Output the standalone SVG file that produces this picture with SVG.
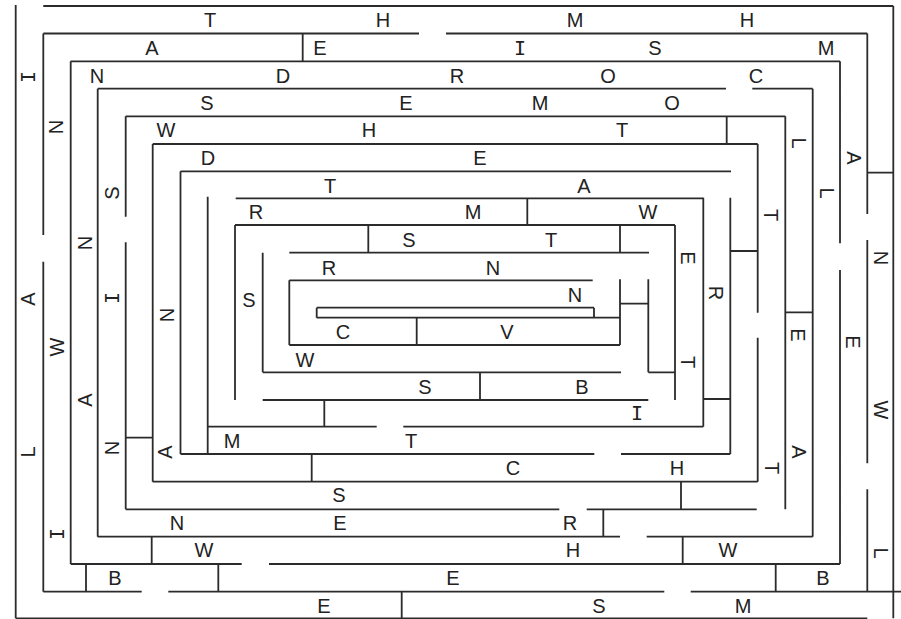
<svg xmlns="http://www.w3.org/2000/svg" width="901" height="619" viewBox="0 0 901 619">
<style>
.w{fill:none;stroke:#2b2b2b;stroke-width:1.8}
.t{font-family:"Liberation Sans",Arial,sans-serif;font-size:20px;fill:#222;text-anchor:middle}
.i{font-family:"DejaVu Sans Mono",monospace;font-size:20px;fill:#222;text-anchor:middle}
</style>
<rect width="901" height="619" fill="#fff"/>
<g id="walls" class="w">
<path d="M43.3 6H893.3M43.3 33.5H419M446 33.5H867.3M70.7 61.3H840M97.7 88.7H726M752.3 88.7H812.7M125.7 116.3H785.3M152.7 144H757.7M180.5 171.3H731M235.7 198.3H703.3M235 225H675M289.3 252.7H649M289.3 280.3H592.7M316.7 307.7H594M316.7 317.7H620M289.3 345H620M262.7 372.3H621M648.3 372.3H675M262.7 400H648.3M207.7 426.7H376.7M403.3 426.7H703.3M180.5 454H594.3M621 454H730.3M152.7 481.7H757.7M125.7 509.3H559.3M586.7 509.3H756.7M97.7 536.7H620M646.7 536.7H812.7M70.7 564H241.7M269 564H840M43.3 591.7H141.7M168.3 591.7H664.3M690.7 591.7H901M15.7 618.3H867.3"/>
<path d="M15.7 5V618.3M43.3 33.5V235M43.3 261.7V591.7M70.7 61.3V564M97.7 88.7V536.7M125.7 116.3V216.7M125.7 242.3V509.3M152.7 144V481.7M180.5 171.3V454M207.7 196.7V454M235 225V400M262.7 252.7V372.3M289.3 280.3V345M316.7 307.7V317.7M594 307.7V317.7M620 225V252.7M620 279.3V345M648.3 279.3V372.3M675 225V400M703.3 197.7V426.7M730.3 197.7V454M757.7 144V312.7M757.7 337.7V481.7M785.3 116.3V509.3M812.7 88.7V536.7M840 61.3V243.3M840 270V564M867.3 33.5V214M867.3 240V463.3M867.3 489.3V591.7M893.3 6V618.3"/>
<path d="M302.7 33.5V61.3M726.7 116.3V144M527.3 198.3V225M368.3 225V252.7M416.7 317.7V345M480 372.3V400M324.3 400V426.7M311.7 454V481.7M681 481.7V509.3M603.3 509.3V536.7M151.7 536.7V564M682.7 536.7V564M86 564V591.7M218.3 564V591.7M775.7 564V591.7M401.7 591.7V618.3M125.7 437.7H152.7M867.3 172.7H893.3M730.3 251H757.7M785.3 312.3H812.7M703.3 399H730.3M620 303.7H648.3"/>
</g>
<g id="labels">
<g class="t">
<text x="210" y="27">T</text><text x="383" y="27">H</text><text x="575" y="27">M</text><text x="747" y="27">H</text>
<text x="152" y="55">A</text><text x="320" y="55">E</text><text x="655" y="55">S</text><text x="826" y="55">M</text>
<text x="97" y="83">N</text><text x="283" y="83">D</text><text x="457" y="83">R</text><text x="608" y="83">O</text><text x="756" y="83">C</text>
<text x="207" y="110">S</text><text x="406" y="110">E</text><text x="540" y="110">M</text><text x="672" y="110">O</text>
<text x="166" y="137">W</text><text x="369" y="137">H</text><text x="622" y="137">T</text>
<text x="208" y="165">D</text><text x="480" y="165">E</text>
<text x="330" y="193">T</text><text x="584" y="193">A</text>
<text x="256" y="219">R</text><text x="473" y="219">M</text><text x="648" y="219">W</text>
<text x="409" y="247">S</text><text x="551" y="247">T</text>
<text x="329" y="275">R</text><text x="493" y="275">N</text>
<text x="575" y="302">N</text>
<text x="343" y="339">C</text><text x="507" y="339">V</text>
<text x="249" y="307">S</text>
<text x="305" y="367">W</text>
<text x="425" y="394">S</text><text x="582" y="394">B</text>
<text x="232" y="448">M</text><text x="411" y="448">T</text>
<text x="513" y="475">C</text><text x="677" y="475">H</text>
<text x="339" y="502">S</text>
<text x="177" y="530">N</text><text x="340" y="530">E</text><text x="570" y="530">R</text>
<text x="204" y="557">W</text><text x="573" y="557">H</text><text x="728" y="557">W</text>
<text x="115" y="585">B</text><text x="453" y="585">E</text><text x="823" y="585">B</text>
<text x="324" y="613">E</text><text x="599" y="613">S</text><text x="743" y="613">M</text>
</g>
<g class="i">
<text x="520" y="55">I</text><text x="637" y="420">I</text>
<text transform="translate(28 77) rotate(-90)" y="7">I</text>
<text transform="translate(112 298) rotate(-90)" y="7">I</text>
<text transform="translate(57 534) rotate(-90)" y="7">I</text>
</g>
<g class="t">
<text transform="translate(28 299) rotate(-90)" y="7">A</text>
<text transform="translate(28 452) rotate(-90)" y="7">L</text>
<text transform="translate(56 127) rotate(-90)" y="7">N</text>
<text transform="translate(57 347) rotate(-90)" y="7">W</text>
<text transform="translate(85 243) rotate(-90)" y="7">N</text>
<text transform="translate(85 400) rotate(-90)" y="7">A</text>
<text transform="translate(112 193) rotate(-90)" y="7">S</text>
<text transform="translate(112 448) rotate(-90)" y="7">N</text>
<text transform="translate(167 315) rotate(-90)" y="7">N</text>
<text transform="translate(165 452) rotate(-90)" y="7">A</text>
<text transform="translate(799 143) rotate(90)" y="7">L</text>
<text transform="translate(854 158) rotate(90)" y="7">A</text>
<text transform="translate(827 193) rotate(90)" y="7">L</text>
<text transform="translate(771 215) rotate(90)" y="7">T</text>
<text transform="translate(688 258) rotate(90)" y="7">E</text>
<text transform="translate(716 293) rotate(90)" y="7">R</text>
<text transform="translate(881 258) rotate(90)" y="7">N</text>
<text transform="translate(798 335) rotate(90)" y="7">E</text>
<text transform="translate(853 342) rotate(90)" y="7">E</text>
<text transform="translate(688 362) rotate(90)" y="7">T</text>
<text transform="translate(881 410) rotate(90)" y="7">W</text>
<text transform="translate(799 452) rotate(90)" y="7">A</text>
<text transform="translate(772 468) rotate(90)" y="7">T</text>
<text transform="translate(881 553) rotate(90)" y="7">L</text>
</g>
</g>
</svg>
